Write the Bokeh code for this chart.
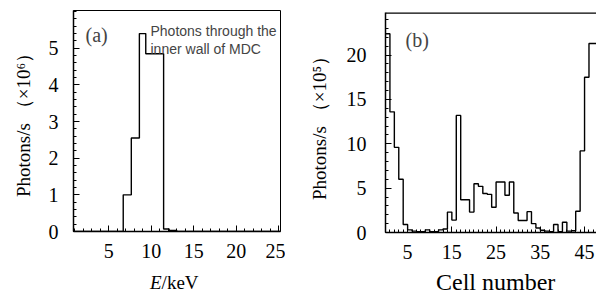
from bokeh.plotting import figure
from bokeh.layouts import row, column
from bokeh.models import Range1d, FixedTicker, Label, Span, Div
from bokeh.embed import file_html
from bokeh.resources import INLINE

# ---------------- data ----------------
# (a) energy spectrum of photons through the inner wall of MDC
energy_edges_keV = [1.0, 6.7, 7.65, 8.6, 9.35, 10.4, 11.45, 12.1, 13.0, 25.2]
photons_a = [0.0, 1.0, 2.55, 5.4, 4.85, 4.85, 0.07, 0.03, 0.0]   # x 10^6 photons/s
energy_ticks = [5, 10, 15, 20, 25]
photons_a_ticks = [0, 1, 2, 3, 4, 5]

# (b) photons per MDC cell
cell_numbers = list(range(1, 49))
photons_b = [22.4, 13.6, 9.6, 6.0, 0.9, 0.3, 0.15, 0.1, 0.1, 0.3,
             0.1, 0.1, 0.3, 0.4, 2.3, 1.4, 13.2, 3.7, 3.7, 2.3,
             5.5, 5.2, 4.4, 4.3, 2.85, 5.7, 5.7, 4.2, 5.7, 2.2,
             1.35, 1.35, 2.35, 1.0, 0.5, 0.25, 0.15, 0.1, 0.9, 0.1,
             1.15, 0.15, 0.2, 2.4, 9.2, 17.5, 21.3, 21.3]          # x 10^5 photons/s
cell_ticks = [5, 15, 25, 35, 45]
photons_b_ticks = [0, 5, 10, 15, 20]

SERIF = "Liberation Serif"
SANS = "Liberation Sans"
FS = "20px"


def style(p):
    p.grid.visible = False
    p.background_fill_color = "white"
    p.border_fill_color = "white"
    for ax in (p.xaxis, p.yaxis):
        ax.axis_line_color = "black"
        ax.axis_line_width = 1.5
        ax.major_tick_in = 6
        ax.major_tick_out = 0
        ax.minor_tick_in = 3
        ax.minor_tick_out = 0
        ax.major_tick_line_color = "black"
        ax.minor_tick_line_color = "black"
        ax.major_label_text_font = SERIF
        ax.major_label_text_font_size = FS
        ax.major_label_text_color = "black"


def xtitle(html, pad_left, pad_top, size, width):
    return Div(text=("<div style=\"padding-left:%dpx; padding-top:%dpx; "
                     "font-family:'Liberation Serif'; font-size:%dpx; "
                     "line-height:1; white-space:nowrap; color:black;\">%s</div>")
               % (pad_left, pad_top, size, html),
               width=width, height=30, margin=0)


def ytitle(html, left, bottom, size, width):
    return Div(text=("<div style=\"position:relative; left:%dpx; top:%dpx; width:220px; "
                     "height:22px; line-height:22px; transform-origin:0 0; "
                     "transform:rotate(-90deg); white-space:nowrap; "
                     "font-family:'Liberation Serif'; font-size:%dpx; color:black;\">%s</div>")
               % (left, bottom, size, html),
               width=width, height=296, margin=0)


# ---------------- panel (a) ----------------
ylabel_a = ytitle("Photons/s （×10⁶）", 13, 197, 19, 40)

pa = figure(width=245, height=266, x_range=Range1d(0.85, 25.2), y_range=Range1d(0, 6.03),
            output_backend="svg", toolbar_location=None,
            min_border_left=33, min_border_right=5, min_border_top=10, min_border_bottom=35)
style(pa)
pa.outline_line_color = "black"
pa.outline_line_width = 1
pa.xaxis.ticker = FixedTicker(ticks=energy_ticks, minor_ticks=list(range(1, 26)))
pa.yaxis.ticker = FixedTicker(ticks=photons_a_ticks,
                              minor_ticks=[i / 5 for i in range(0, 31)])
pa.xaxis.major_label_standoff = 12
pa.yaxis.major_label_standoff = 15

pa.step(x=energy_edges_keV, y=photons_a + [photons_a[-1]], mode="after",
        line_color="black", line_width=1.4)

pa.add_layout(Label(x=12, y=197, x_units="screen", y_units="screen", text="(a)",
                    text_font=SERIF, text_font_size="20px", text_baseline="alphabetic"))
pa.add_layout(Label(x=77, y=201, x_units="screen", y_units="screen",
                    text="Photons through the", text_font=SANS, text_font_size="14px",
                    text_baseline="alphabetic"))
pa.add_layout(Label(x=77, y=183, x_units="screen", y_units="screen",
                    text="inner wall of MDC", text_font=SANS, text_font_size="14px",
                    text_baseline="alphabetic"))

xlabel_a = xtitle("<i>E</i>/keV", 110, 7, 19, 245)

# ---------------- panel (b) ----------------
ylabel_b = ytitle("Photons/s （×10⁵）", 24, 200, 19, 55)

Y_TOP_B = 24.8
pb = figure(width=256, height=266, x_range=Range1d(0, 47.7), y_range=Range1d(0, Y_TOP_B),
            output_backend="svg", toolbar_location=None,
            min_border_left=45, min_border_right=0, min_border_top=12, min_border_bottom=34)
style(pb)
pb.outline_line_color = None
pb.xaxis.ticker = FixedTicker(ticks=cell_ticks, minor_ticks=list(range(0, 49)))
pb.yaxis.ticker = FixedTicker(ticks=photons_b_ticks, minor_ticks=list(range(0, 25)))
pb.xaxis.major_label_standoff = 12
pb.yaxis.major_label_standoff = 19
pb.add_layout(Span(location=Y_TOP_B, dimension="width", line_color="black", line_width=2.5))

cell_edges = [c - 1 for c in cell_numbers] + [cell_numbers[-1]]
pb.step(x=cell_edges, y=photons_b + [photons_b[-1]], mode="after",
        line_color="black", line_width=1.4)

pb.add_layout(Label(x=20, y=193, x_units="screen", y_units="screen", text="(b)",
                    text_font=SERIF, text_font_size="20px", text_baseline="alphabetic"))

xlabel_b = xtitle("Cell number", 96, 4, 24, 256)

layout = row(ylabel_a, column(pa, xlabel_a), ylabel_b, column(pb, xlabel_b))
open("out.html", "w").write(file_html(layout, INLINE))
